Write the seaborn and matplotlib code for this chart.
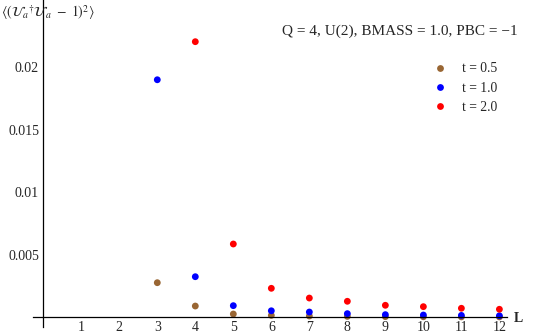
import pandas as pd
import matplotlib.pyplot as plt
import seaborn as sns

# values
L_short = [3, 4, 5, 6, 7, 8, 9, 10, 11, 12]
L_red = [4, 5, 6, 7, 8, 9, 10, 11, 12]
t05 = [0.00275, 0.00088, 0.00024, 0.00013, 0.00008, 0.00005, 0.00003, 0.00002, 0.00001, 0.00001]
t10 = [0.01901, 0.00323, 0.00091, 0.00050, 0.00040, 0.00027, 0.00019, 0.00016, 0.00013, 0.00010]
t20 = [0.02206, 0.00585, 0.00230, 0.00152, 0.00126, 0.00094, 0.00083, 0.00070, 0.00062]
labels = ['t = 0.5', 't = 1.0', 't = 2.0']
colors = ['#996633', '#0000ff', '#ff0000']
yticks = [0.005, 0.01, 0.015, 0.02]
yticklabels = ['0.005', '0.01', '0.015', '0.02']

df = pd.concat([
    pd.DataFrame({'L': L_short, 'val': t05, 't': labels[0]}),
    pd.DataFrame({'L': L_short, 'val': t10, 't': labels[1]}),
    pd.DataFrame({'L': L_red, 'val': t20, 't': labels[2]}),
], ignore_index=True)

sns.set_style('white')
plt.rcParams['font.family'] = ['Liberation Serif', 'DejaVu Serif']
plt.rcParams['mathtext.fontset'] = 'stix'

fig = plt.figure(figsize=(5.45, 3.33), dpi=100)
ax = fig.add_axes([33/545, 1 - 327/333, (507 - 33)/545, 327/333])

sns.scatterplot(data=df, x='L', y='val', hue='t', palette=colors, s=24,
                linewidth=0, ax=ax, legend=True)

ax.set_xlim(-0.27, 12.2)
ax.set_ylim(-0.0008, 0.0254)

for side in ['top', 'right']:
    ax.spines[side].set_visible(False)
for side in ['left', 'bottom']:
    ax.spines[side].set_position(('data', 0))
    ax.spines[side].set_linewidth(0.9)
    ax.spines[side].set_color('black')

ax.set_xticks(range(1, 13))
ax.set_yticks(yticks)
ax.set_yticklabels(yticklabels)
ax.tick_params(axis='both', direction='in', length=3, width=0.8, color='black',
               labelsize=10, pad=3)
ax.set_xlabel('')
ax.set_ylabel('')

handles, lbls = ax.get_legend_handles_labels()
ax.legend(handles, lbls, loc='center left', bbox_to_anchor=(435/545, 1 - 88/333),
          bbox_transform=fig.transFigure, frameon=False, fontsize=9.8,
          handlelength=0.8, handletextpad=1.2, labelspacing=0.45, borderpad=0,
          borderaxespad=0)

fig.text(400/545, 1 - 31/333, 'Q = 4, U(2), BMASS = 1.0, PBC = \u22121',
         ha='center', va='center', fontsize=11)
fig.text(1/545, 1 - 13/333,
         r'$\langle(\mathcal{U}_a{}^{\dagger}\mathcal{U}_a\ -\ 1)^2\rangle$',
         ha='left', va='center', fontsize=10)
fig.text(514/545, 1 - 318/333, 'L', ha='left', va='center', fontsize=10,
         fontweight='bold')

fig.savefig('out.png', dpi=100)
